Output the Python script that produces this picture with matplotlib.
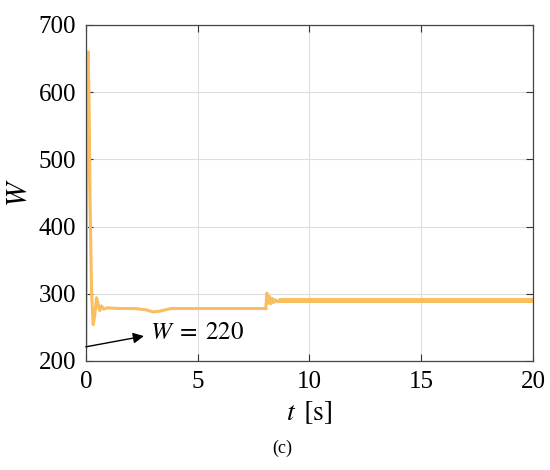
import matplotlib.pyplot as plt
import numpy as np

# transient part
t_main = [0.0, 0.02, 0.06, 0.10, 0.14, 0.20, 0.26, 0.33, 0.40, 0.48, 0.55, 0.62,
          0.70, 0.80, 0.95, 1.5, 2.2, 2.7, 3.0, 3.3, 3.8, 4.5, 6.0, 7.5, 8.05]
w_main = [220, 330, 560, 660, 600, 420, 300, 254, 268, 294, 285, 275,
          282, 277, 279, 278, 278, 276, 273, 274, 278, 278, 278, 278, 278]

# switching at t ~ 8 s
t_step = [8.05, 8.10, 8.17, 8.22, 8.28, 8.34, 8.40, 8.48, 8.56, 8.65]
w_step = [278, 301, 286, 296, 285, 293, 287, 291, 288, 290]

# ripple band afterwards
t_band = [8.65, 20.0]
w_band_lo = [286.0, 286.0]
w_band_hi = [293.0, 293.0]

color = '#F9BE60'

plt.rcParams['font.family'] = ['Liberation Serif', 'DejaVu Serif']
plt.rcParams['mathtext.fontset'] = 'stix'

fig = plt.figure(figsize=(5.5, 4.7), dpi=100)
ax = fig.add_axes([0.156, 0.232, 0.813, 0.715])

ax.plot(t_main, w_main, color=color, lw=2.2, solid_joinstyle='round')
ax.plot(t_step, w_step, color=color, lw=2.2, solid_joinstyle='round')
ax.fill_between(t_band, w_band_lo, w_band_hi, color=color, lw=0)

ax.set_xlim(0, 20)
ax.set_ylim(200, 700)
ax.set_xticks([0, 5, 10, 15, 20])
ax.set_yticks([200, 300, 400, 500, 600, 700])
ax.grid(True, color='#dddddd', lw=0.8)
ax.set_axisbelow(True)
ax.tick_params(direction='in', labelsize=18, length=5, color='#333333',
               top=True, right=True, pad=7)
for s in ax.spines.values():
    s.set_color('#444444')
    s.set_linewidth(0.9)

ax.set_xlabel(r'$t\ \,[\mathrm{s}]$', fontsize=20, labelpad=5)
ax.set_ylabel(r'$W$', fontsize=21, labelpad=5)

# arrow points from the initial value toward the label
ax.annotate('', xy=(2.6, 237), xytext=(0, 221),
            arrowprops=dict(arrowstyle='-|>', color='black', lw=1.0,
                            mutation_scale=16, shrinkA=0, shrinkB=0))
ax.text(2.85, 242, r'$W\;=\;220$', fontsize=18, va='center', ha='left')

fig.text(0.513, 0.047, '(c)', fontsize=13, ha='center', va='center')

fig.savefig('out.png', dpi=100)
